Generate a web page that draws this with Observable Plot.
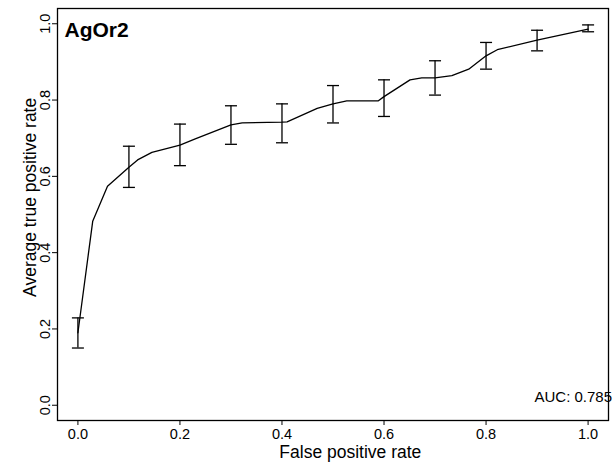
<!DOCTYPE html>
<html>
<head>
<meta charset="utf-8">
<script src="https://cdn.jsdelivr.net/npm/d3@7"></script>
<script src="https://cdn.jsdelivr.net/npm/@observablehq/plot@0.6"></script>
<style>
  html, body { margin: 0; padding: 0; background: #fff; }
  svg { display: block; }
</style>
</head>
<body>
<div id="chart"></div>
<script>
// Mean ROC curve (false positive rate vs average true positive rate)
const fpr = [0, 0.029, 0.058, 0.1, 0.117, 0.145, 0.2, 0.23, 0.3, 0.322, 0.4, 0.41, 0.469, 0.5, 0.527, 0.589, 0.6, 0.651, 0.674, 0.7, 0.733, 0.766, 0.8, 0.822, 0.9, 1.0];
const tpr = [0.19, 0.482, 0.574, 0.624, 0.643, 0.663, 0.682, 0.698, 0.735, 0.740, 0.742, 0.743, 0.778, 0.790, 0.798, 0.798, 0.809, 0.853, 0.858, 0.858, 0.864, 0.881, 0.916, 0.932, 0.957, 0.986];

// Error bars
const barX  = [0, 0.1, 0.2, 0.3, 0.4, 0.5, 0.6, 0.7, 0.8, 0.9, 1.0];
const barLo = [0.150, 0.571, 0.628, 0.684, 0.688, 0.740, 0.757, 0.813, 0.881, 0.929, 0.979];
const barHi = [0.229, 0.679, 0.737, 0.785, 0.790, 0.838, 0.853, 0.903, 0.951, 0.983, 0.997];

// Ticks
const xTicks = [0, 0.2, 0.4, 0.6, 0.8, 1.0];
const yTicks = [0, 0.2, 0.4, 0.6, 0.8, 1.0];
const tickLabels = ["0.0", "0.2", "0.4", "0.6", "0.8", "1.0"];

// Texts
const titleText = "AgOr2";
const aucText = "AUC: 0.785";
const xTitle = "False positive rate";
const yTitle = "Average true positive rate";

const curve = fpr.map((x, i) => ({x, y: tpr[i]}));
const bars = barX.map((x, i) => ({x, lo: barLo[i], hi: barHi[i]}));
const xt = xTicks.map((v, i) => ({v, t: tickLabels[i]}));
const yt = yTicks.map((v, i) => ({v, t: tickLabels[i]}));

const capSymbol = {
  draw(ctx, size) {
    const r = Math.sqrt(size / Math.PI);
    ctx.moveTo(-r, 0);
    ctx.lineTo(r, 0);
  }
};

const chart = Plot.plot({
  width: 614,
  height: 466,
  marginLeft: 57,
  marginRight: 6,
  marginTop: 8,
  marginBottom: 46,
  style: {fontFamily: "'Liberation Sans', Arial, sans-serif", background: "#fff", color: "#000"},
  x: {domain: [-0.04, 1.04], axis: null},
  y: {domain: [-0.04, 1.04], axis: null},
  marks: [
    Plot.axisX({ticks: xTicks, tickSize: 5, tickFormat: () => "", label: null, stroke: "#000", strokeWidth: 1}),
    Plot.axisY({ticks: yTicks, tickSize: 5, tickFormat: () => "", label: null, stroke: "#000", strokeWidth: 1}),
    Plot.text(xt, {x: "v", text: "t", frameAnchor: "bottom", dy: 13.5, lineAnchor: "middle", fontSize: 14.5, fill: "#000"}),
    Plot.text(yt, {y: "v", text: "t", frameAnchor: "left", dx: -7.5, rotate: -90, lineAnchor: "bottom", textAnchor: "middle", fontSize: 14.5, fill: "#000"}),
    Plot.text([xTitle], {x: 0.534, text: d => d, frameAnchor: "bottom", dy: 37, lineAnchor: "bottom", fontSize: 17.5, fill: "#000"}),
    Plot.text([yTitle], {y: 0.545, text: d => d, frameAnchor: "left", dx: -22, rotate: -90, lineAnchor: "bottom", textAnchor: "middle", fontSize: 17.5, fill: "#000"}),
    Plot.frame({stroke: "#000", strokeWidth: 1.3}),
    Plot.line(curve, {x: "x", y: "y", stroke: "#000", strokeWidth: 1.3}),
    Plot.ruleX(bars, {x: "x", y1: "lo", y2: "hi", stroke: "#000", strokeWidth: 1.3}),
    Plot.dot(bars, {x: "x", y: "lo", symbol: capSymbol, r: 6, stroke: "#000", fill: "none", strokeWidth: 1.3}),
    Plot.dot(bars, {x: "x", y: "hi", symbol: capSymbol, r: 6, stroke: "#000", fill: "none", strokeWidth: 1.3}),
    Plot.text([titleText], {text: d => d, frameAnchor: "top-left", dx: 7, dy: 14, lineAnchor: "top", textAnchor: "start", fontSize: 21, fontWeight: "bold", fill: "#000"}),
    Plot.text([aucText], {text: d => d, frameAnchor: "bottom-right", dx: -74, dy: -19, lineAnchor: "bottom", textAnchor: "start", fontSize: 15, fill: "#000"})
  ]
});
document.getElementById("chart").appendChild(chart);
</script>
</body>
</html>
